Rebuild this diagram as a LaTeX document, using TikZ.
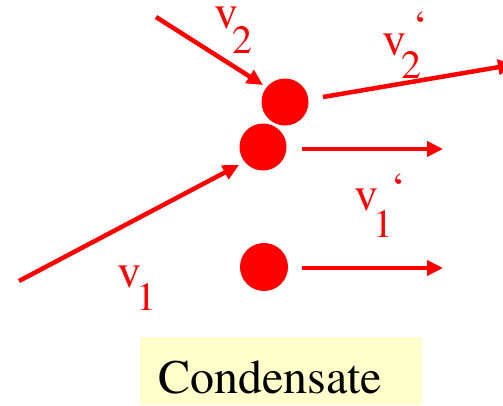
\documentclass[tikz,border=0pt]{standalone}
\usepackage{fontspec}
\newfontfamily\tnr{TeX Gyre Termes}
\usetikzlibrary{arrows.meta}
\definecolor{ppred}{RGB}{255,0,0}
\definecolor{ppyellow}{RGB}{255,255,204}
\tikzset{
  ball/.style={circle, fill=ppred, inner sep=0pt, minimum size=47pt},
  vec/.style={draw=ppred, line width=4.5pt, -{Triangle[length=16pt,width=15pt]}},
  vlabel/.style={text=ppred, inner sep=0pt, anchor=base west, font=\tnr\fontsize{48}{50}\selectfont},
}
\newcommand{\subsz}{\tnr\fontsize{40}{42}\selectfont}
\newcommand{\qsz}{\tnr\fontsize{44}{46}\selectfont}
\begin{document}
\begin{tikzpicture}[x=1pt, y=-1pt]
\useasboundingbox (0,0) rectangle (503,405);
% balls
\node[ball] (b2) at (285,102) {};
\node[ball] (b1) at (263,147) {};
\node[ball, minimum size=48pt] (b3) at (264,267) {};
% connector end points
\coordinate (v2s) at (156,17);
\coordinate (v2e) at (263,85);
\coordinate (v1s) at (19,281);
\coordinate (v1e) at (239,165);
\coordinate (v2ps) at (323,97);
\coordinate (v2pe) at (514,64.5);
\coordinate (v1ps) at (302,149);
\coordinate (v1pe) at (443,149);
\coordinate (b3s) at (302,268);
\coordinate (b3e) at (443,268);
\draw[vec] (v2s) -- (v2e);
\draw[vec] (v1s) -- (v1e);
\draw[vec] (v2ps) -- (v2pe);
\draw[vec] (v1ps) -- (v1pe);
\draw[vec] (b3s) -- (b3e);
% labels
\node[vlabel] (lv2) at (214,28) {v\kern-6pt\raisebox{-25pt}{\subsz 2}};
\node[vlabel] (lv1) at (117,287) {v\kern-5pt\raisebox{-23pt}{\subsz 1}};
\node[vlabel] (lv2p) at (382,55) {v\kern-5pt\raisebox{-23pt}{\subsz 2}\kern-9pt\raisebox{14pt}{\qsz ‘}};
\node[vlabel] (lv1p) at (354,210) {v\kern-5pt\raisebox{-27pt}{\subsz 1}\kern-3pt\raisebox{7pt}{\qsz ‘}};
% condensate box
\fill[ppyellow] (140,337) rectangle (422,405);
\node[vlabel, text=black] (cond) at (158,393) {Condensate};
\end{tikzpicture}
\end{document}
